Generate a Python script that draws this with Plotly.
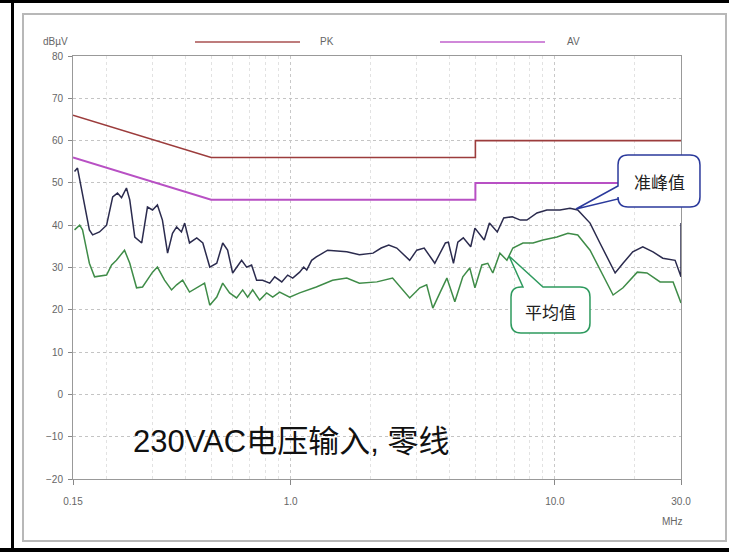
import plotly.graph_objects as go

# limit lines (EN55022 class B style), MHz / dBuV
pk_freq = [0.15, 0.5, 5.0, 5.0, 30.0]
pk_level = [66, 56, 56, 60, 60]
av_freq = [0.15, 0.5, 5.0, 5.0, 30.0]
av_level = [56, 46, 46, 50, 50]

# quasi-peak scan
qp_freq = [0.152, 0.156, 0.173, 0.178, 0.189, 0.201, 0.212, 0.221, 0.229, 0.239,
           0.246, 0.257, 0.273, 0.287, 0.300, 0.313, 0.327, 0.342, 0.357, 0.370,
           0.386, 0.397, 0.414, 0.441, 0.465, 0.494, 0.525, 0.553, 0.577, 0.603,
           0.652, 0.681, 0.711, 0.743, 0.783, 0.833, 0.870, 0.925, 0.974, 1.018,
           1.081, 1.12, 1.15, 1.20, 1.25, 1.38, 1.63, 1.82, 2.05, 2.20, 2.35, 2.52, 2.82,
           3.00, 3.20, 3.51, 3.85, 3.95, 4.13, 4.29, 4.50, 4.80, 4.98, 5.40,
           5.65, 6.05, 6.40, 6.90, 7.40, 7.83, 8.55, 9.32, 10.45, 11.40, 12.2,
           13.58, 14.8, 16.15, 16.9, 18.1, 19.7, 21.5, 23.5, 25.6, 28.5, 30.0, 30.0]
qp_level = [52.7, 53.5, 38.9, 37.7, 38.4, 40.0, 46.7, 47.6, 46.5, 48.8,
            46.0, 37.2, 35.8, 44.3, 43.6, 44.8, 41.2, 33.4, 38.1, 39.6,
            38.4, 40.5, 35.8, 37.0, 35.8, 30.1, 31.0, 35.8, 34.1, 28.7,
            31.7, 30.1, 30.6, 27.0, 27.0, 26.3, 27.8, 26.6, 28.2, 27.5,
            28.9, 30.1, 29.4, 31.7, 32.5, 34.1, 33.7, 33.0, 33.4, 34.6, 35.3, 34.6, 31.7,
            34.1, 34.6, 31.0, 35.8, 36.0, 31.0, 36.0, 37.0, 34.9, 39.3, 36.5,
            40.5, 38.4, 41.7, 42.0, 41.2, 41.2, 42.9, 43.6, 43.6, 44.0, 43.6,
            40.5, 35.8, 31.0, 28.7, 31.0, 33.7, 34.9, 33.7, 32.2, 31.7, 27.8, 40.5]

# average scan
avg_freq = [0.152, 0.159, 0.163, 0.173, 0.181, 0.201, 0.210, 0.219, 0.235, 0.246,
            0.261, 0.275, 0.300, 0.313, 0.333, 0.354, 0.370, 0.390, 0.414, 0.444,
            0.472, 0.494, 0.525, 0.553, 0.587, 0.624, 0.658, 0.687, 0.718, 0.763,
            0.811, 0.855, 0.908, 0.991, 1.081, 1.25, 1.44, 1.63, 1.82, 2.12, 2.43,
            2.82, 3.08, 3.27, 3.45, 3.67, 3.90, 4.18, 4.48, 4.76, 4.98, 5.29, 5.57, 5.82,
            6.19, 6.58, 6.93, 7.57, 8.26, 9.01, 10.18, 11.2, 12.2, 13.58, 14.8,
            16.6, 18.1, 20.5, 22.3, 25.0, 28.0, 30.0]
avg_level = [38.9, 40.0, 38.9, 31.0, 27.8, 28.2, 30.6, 31.7, 34.1, 31.0,
             25.2, 25.4, 28.9, 30.1, 27.0, 24.7, 25.9, 27.0, 24.2, 25.4,
             26.3, 21.1, 23.0, 26.3, 24.0, 22.8, 24.7, 23.0, 24.7, 22.3,
             24.0, 23.0, 24.2, 23.0, 24.0, 25.4, 27.0, 27.5, 26.3, 26.6, 27.5,
             22.8, 25.2, 25.9, 20.4, 24.0, 27.5, 21.9, 27.8, 29.9, 25.2, 30.6, 31.0, 28.7,
             33.4, 31.7, 34.6, 35.8, 35.8, 36.5, 37.2, 38.1, 37.7, 34.1, 29.4,
             23.5, 25.2, 28.9, 28.7, 26.6, 26.6, 21.6]

x_ticks = [0.15, 1.0, 10.0, 30.0]
x_ticktext = ['0.15', '1.0', '10.0', '30.0']
x_minor = [0.2, 0.3, 0.4, 0.5, 0.6, 0.7, 0.8, 0.9, 2, 3, 4, 5, 6, 7, 8, 9, 20]
y_ticks = [-20, -10, 0, 10, 20, 30, 40, 50, 60, 70, 80]

# page geometry in pixels, plot area 73..681 x 56..479
W, H = 729, 552
L, R, T, B = 73, 681, 56, 479


def px(x):
    return (x - L) / (R - L)


def py(y):
    return (B - y) / (B - T)


def path(points):
    # points are ('M'|'L'|'Q', coords...) in page pixels
    out = []
    for cmd, *c in points:
        pairs = [f'{px(c[i]):.4f},{py(c[i + 1]):.4f}' for i in range(0, len(c), 2)]
        out.append(cmd + ' ' + ' '.join(pairs))
    return ' '.join(out) + ' Z'


def bubble_left(x0, y0, x1, y1, r, ya, yb, tip):
    return path([('M', x0 + r, y0), ('L', x1 - r, y0), ('Q', x1, y0, x1, y0 + r),
                 ('L', x1, y1 - r), ('Q', x1, y1, x1 - r, y1), ('L', x0 + r, y1),
                 ('Q', x0, y1, x0, y1 - r), ('L', x0, yb), ('L', *tip), ('L', x0, ya),
                 ('L', x0, y0 + r), ('Q', x0, y0, x0 + r, y0)])


def bubble_top(x0, y0, x1, y1, r, xa, xb, tip):
    return path([('M', x0 + r, y0), ('L', xa, y0), ('L', *tip), ('L', xb, y0),
                 ('L', x1 - r, y0), ('Q', x1, y0, x1, y0 + r),
                 ('L', x1, y1 - r), ('Q', x1, y1, x1 - r, y1), ('L', x0 + r, y1),
                 ('Q', x0, y1, x0, y1 - r), ('L', x0, y0 + r), ('Q', x0, y0, x0 + r, y0)])


fig = go.Figure()
fig.add_trace(go.Scatter(x=pk_freq, y=pk_level, mode='lines', name='PK',
                         line=dict(color='#9c3c3c', width=1.6)))
fig.add_trace(go.Scatter(x=av_freq, y=av_level, mode='lines', name='AV',
                         line=dict(color='#b850c4', width=2)))
fig.add_trace(go.Scatter(x=avg_freq, y=avg_level, mode='lines', name='平均值',
                         line=dict(color='#3f8c48', width=1.5)))
fig.add_trace(go.Scatter(x=qp_freq, y=qp_level, mode='lines', name='准峰值',
                         line=dict(color='#2b2b4e', width=1.5)))

small = dict(family='Liberation Sans, Arial', size=10, color='#666666')
cjk = 'Liberation Sans, Arial, Noto Sans CJK SC'

shapes = [
    # outer frame of the screenshot
    dict(type='rect', xref='paper', yref='paper', x0=px(23), x1=px(726), y0=py(14), y1=py(541),
         line=dict(color='#b8b8b8', width=2), layer='below'),
    dict(type='rect', xref='paper', yref='paper', x0=px(0), x1=px(729), y0=py(0), y1=py(3),
         fillcolor='black', line_width=0),
    dict(type='rect', xref='paper', yref='paper', x0=px(11), x1=px(14), y0=py(0), y1=py(552),
         fillcolor='black', line_width=0),
    dict(type='rect', xref='paper', yref='paper', x0=px(0), x1=px(729), y0=py(548), y1=py(552),
         fillcolor='black', line_width=0),
    # legend samples
    dict(type='line', xref='paper', yref='paper', x0=px(195), x1=px(300), y0=py(42), y1=py(42),
         line=dict(color='#a85050', width=1.6)),
    dict(type='line', xref='paper', yref='paper', x0=px(440), x1=px(545), y0=py(42), y1=py(42),
         line=dict(color='#c060cc', width=1.6)),
    # callouts
    dict(type='path', xref='paper', yref='paper',
         path=bubble_left(618, 155, 700, 207, 10, 186, 199, (576, 209)),
         fillcolor='white', line=dict(color='#2b3a9c', width=1.5)),
    dict(type='path', xref='paper', yref='paper',
         path=bubble_top(511, 287, 590, 333, 10, 523, 543, (509, 256)),
         fillcolor='white', line=dict(color='#2e9a5e', width=1.5)),
]

annotations = [
    dict(text='dBµV', x=px(41), y=py(42), xanchor='left', yanchor='middle', font=small),
    dict(text='PK', x=px(318), y=py(42), xanchor='left', yanchor='middle', font=small),
    dict(text='AV', x=px(565), y=py(42), xanchor='left', yanchor='middle', font=small),
    dict(text='MHz', x=px(672), y=py(521), xanchor='center', yanchor='middle', font=small),
    dict(text='230VAC电压输入, 零线', x=px(131), y=py(441), xanchor='left', yanchor='middle',
         font=dict(family=cjk, size=31, color='#111111')),
    dict(text='准峰值', x=px(659), y=py(181), xanchor='center', yanchor='middle',
         font=dict(family='Noto Sans CJK SC', size=17, color='#222222')),
    dict(text='平均值', x=px(550), y=py(311), xanchor='center', yanchor='middle',
         font=dict(family='Noto Sans CJK SC', size=17, color='#222222')),
]
for a in annotations:
    a.update(xref='paper', yref='paper', showarrow=False)

fig.update_layout(
    width=W, height=H,
    margin=dict(l=L, r=W - R, t=T, b=H - B),
    paper_bgcolor='white', plot_bgcolor='white',
    showlegend=False,
    shapes=shapes,
    annotations=annotations,
    font=small,
)
fig.update_xaxes(type='log', range=[-0.8239, 1.4771], autorange=False,
                 tickvals=x_ticks, ticktext=x_ticktext,
                 ticks='outside', ticklen=5, tickcolor='#888', ticklabelstandoff=8,
                 showgrid=True, gridcolor='#c8c8c8', griddash='dot',
                 minor=dict(tickvals=x_minor, showgrid=True, gridcolor='#e2e2e2', ticks=''),
                 showline=True, linecolor='#999', linewidth=1, mirror=True,
                 zeroline=False, tickfont=small)
fig.update_yaxes(range=[-20, 80], tickvals=y_ticks,
                 ticks='outside', ticklen=4, tickcolor='#888', ticklabelstandoff=3,
                 showgrid=True, gridcolor='#c4c4c4', griddash='dot',
                 showline=True, linecolor='#999', linewidth=1, mirror=True,
                 zeroline=False, tickfont=small)

# page body has a default 8px margin; drop it so the figure sits at 0,0
fig.write_html("out.html", config={'displayModeBar': False},
               post_script="document.body.style.margin='0';")
